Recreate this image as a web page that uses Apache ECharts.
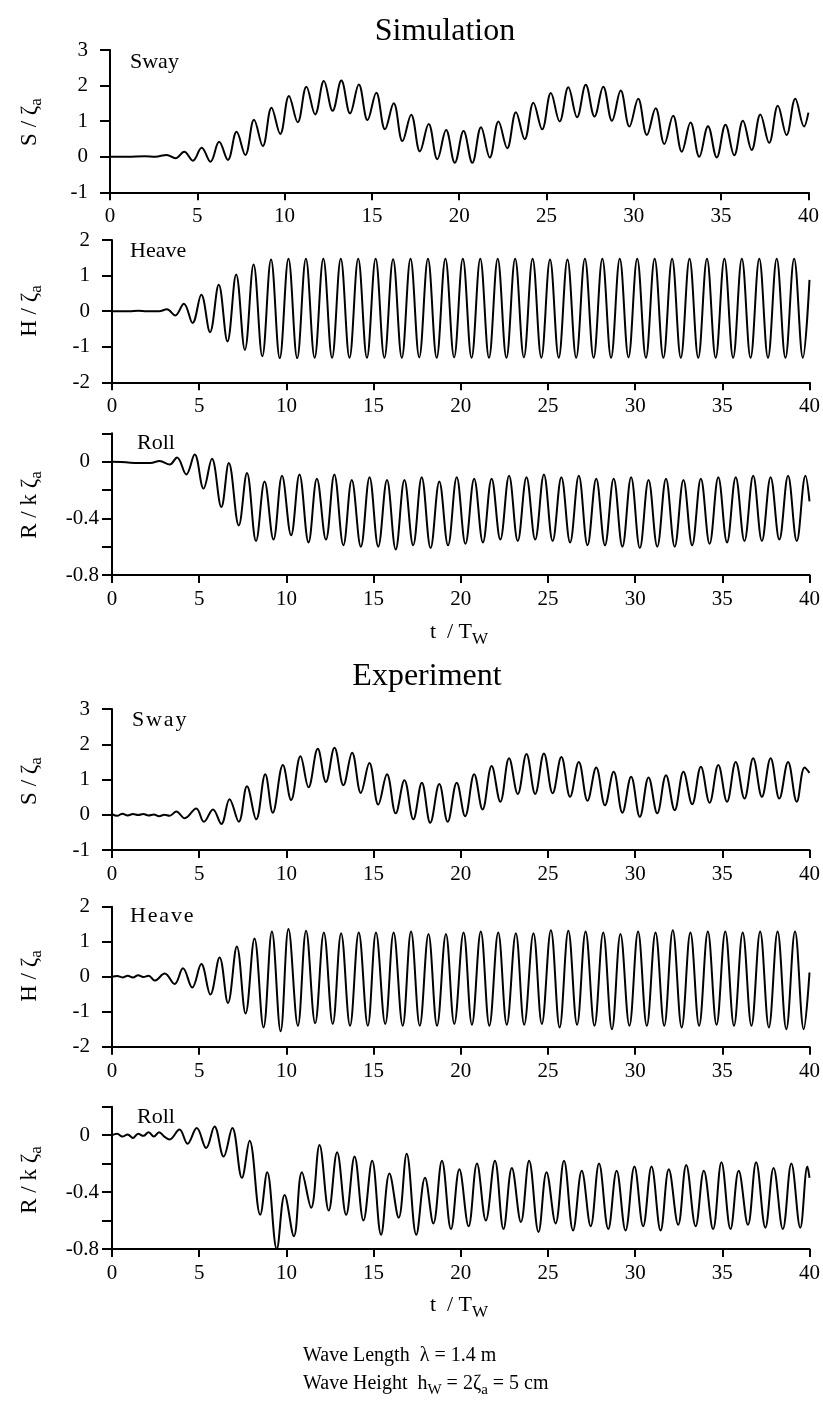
<!DOCTYPE html>
<html><head><meta charset="utf-8">
<script src="https://cdn.jsdelivr.net/npm/echarts@6/dist/echarts.min.js"></script>
<style>html,body{margin:0;padding:0;background:#fff}#c{width:823px;height:1411px}</style>
</head><body><div id="c"></div>
<script>
// ---------- data (t / Tw, value) ----------
const xTickLabels = [0,5,10,15,20,25,30,35,40];

const simSway = [[0,0],[1,0],[2,0.01],[2.6,0],[3.25,0.05],[3.75,-0.04],[4.25,0.14],[4.75,-0.11],[5.25,0.25],[5.75,-0.14],[6.25,0.42],[6.75,-0.09],[7.25,0.70],[7.75,0.05],[8.25,1.04],[8.75,0.30],[9.25,1.38],[9.75,0.64],[10.25,1.71],[10.75,0.97],[11.25,1.97],[11.75,1.19],[12.25,2.13],[12.75,1.29],[13.25,2.14],[13.75,1.22],[14.25,2.03],[14.75,1.03],[15.25,1.80],[15.75,0.77],[16.25,1.50],[16.75,0.44],[17.25,1.18],[17.75,0.15],[18.25,0.92],[18.75,-0.07],[19.25,0.75],[19.75,-0.17],[20.25,0.72],[20.75,-0.17],[21.25,0.83],[21.75,-0.02],[22.25,0.99],[22.75,0.24],[23.25,1.25],[23.75,0.49],[24.25,1.52],[24.75,0.77],[25.25,1.79],[25.75,0.99],[26.25,1.95],[26.75,1.11],[27.25,2.02],[27.75,1.13],[28.25,1.97],[28.75,1.01],[29.25,1.86],[29.75,0.85],[30.25,1.63],[30.75,0.61],[31.25,1.36],[31.75,0.36],[32.25,1.15],[32.75,0.14],[33.25,0.96],[33.75,0.00],[34.25,0.86],[34.75,-0.02],[35.25,0.90],[35.75,0.04],[36.25,1.01],[36.75,0.19],[37.25,1.19],[37.75,0.39],[38.25,1.43],[38.75,0.61],[39.25,1.63],[39.75,0.85],[40,1.24]];

const simHeave = [[0,0],[1,0],[1.5,0.01],[2,0],[2.7,0],[3.15,0.05],[3.62,-0.12],[4.12,0.21],[4.62,-0.33],[5.12,0.46],[5.62,-0.59],[6.12,0.74],[6.62,-0.85],[7.12,1.03],[7.62,-1.09],[8.12,1.31],[8.62,-1.27],[9.12,1.45],[9.62,-1.32],[10.12,1.47],[10.62,-1.32],[11.12,1.47],[11.62,-1.31],[12.12,1.47],[12.62,-1.31],[13.12,1.47],[13.62,-1.31],[14.12,1.47],[14.62,-1.31],[15.12,1.47],[15.62,-1.31],[16.12,1.46],[16.62,-1.31],[17.12,1.47],[17.62,-1.30],[18.12,1.47],[18.62,-1.31],[19.12,1.47],[19.62,-1.30],[20.12,1.47],[20.62,-1.31],[21.12,1.47],[21.62,-1.31],[22.12,1.47],[22.62,-1.31],[23.12,1.47],[23.62,-1.30],[24.12,1.47],[24.62,-1.31],[25.12,1.45],[25.62,-1.31],[26.12,1.45],[26.62,-1.31],[27.12,1.47],[27.62,-1.31],[28.12,1.47],[28.62,-1.31],[29.12,1.47],[29.62,-1.30],[30.12,1.47],[30.62,-1.31],[31.12,1.47],[31.62,-1.31],[32.12,1.47],[32.62,-1.31],[33.12,1.47],[33.62,-1.31],[34.12,1.47],[34.62,-1.31],[35.12,1.47],[35.62,-1.31],[36.12,1.47],[36.62,-1.31],[37.12,1.47],[37.62,-1.31],[38.12,1.47],[38.62,-1.31],[39.12,1.47],[39.62,-1.31],[40,0.88]];

const simRoll = [[0,0],[0.8,-0.005],[1.5,-0.01],[2.2,-0.01],[2.73,0.005],[3.31,-0.02],[3.73,0.03],[4.26,-0.09],[4.74,0.05],[5.25,-0.19],[5.73,0.02],[6.27,-0.32],[6.7,-0.01],[7.27,-0.45],[7.74,-0.08],[8.26,-0.56],[8.75,-0.14],[9.26,-0.55],[9.75,-0.10],[10.27,-0.52],[10.75,-0.09],[11.27,-0.57],[11.75,-0.12],[12.27,-0.55],[12.75,-0.09],[13.27,-0.59],[13.75,-0.13],[14.27,-0.60],[14.77,-0.11],[15.27,-0.60],[15.77,-0.13],[16.27,-0.62],[16.77,-0.13],[17.27,-0.59],[17.76,-0.11],[18.27,-0.61],[18.77,-0.14],[19.27,-0.59],[19.77,-0.11],[20.27,-0.58],[20.77,-0.12],[21.27,-0.57],[21.77,-0.12],[22.27,-0.55],[22.77,-0.10],[23.27,-0.56],[23.77,-0.11],[24.27,-0.55],[24.77,-0.09],[25.27,-0.56],[25.77,-0.11],[26.27,-0.57],[26.77,-0.10],[27.27,-0.59],[27.77,-0.12],[28.27,-0.59],[28.77,-0.12],[29.27,-0.60],[29.77,-0.11],[30.27,-0.61],[30.77,-0.13],[31.27,-0.60],[31.77,-0.12],[32.27,-0.60],[32.77,-0.13],[33.27,-0.59],[33.77,-0.12],[34.27,-0.58],[34.77,-0.11],[35.27,-0.57],[35.77,-0.11],[36.27,-0.56],[36.77,-0.10],[37.27,-0.56],[37.77,-0.11],[38.27,-0.55],[38.77,-0.10],[39.27,-0.56],[39.77,-0.10],[40,-0.28]];

const expSway = [[0,0.02],[0.3,-0.03],[0.6,0.03],[0.9,-0.02],[1.2,0.02],[1.5,-0.01],[1.8,0.02],[2.1,-0.02],[2.4,0.01],[2.7,-0.04],[3.0,0.0],[3.3,-0.03],[3.69,0.09],[4.17,-0.10],[4.83,0.18],[5.27,-0.20],[5.79,0.15],[6.27,-0.26],[6.74,0.44],[7.27,-0.20],[7.74,0.81],[8.27,-0.13],[8.79,1.15],[9.22,0.06],[9.80,1.41],[10.27,0.42],[10.81,1.66],[11.27,0.78],[11.80,1.87],[12.27,0.93],[12.76,1.90],[13.27,0.84],[13.77,1.76],[14.27,0.62],[14.76,1.47],[15.27,0.29],[15.77,1.15],[16.27,0.04],[16.77,0.98],[17.28,-0.13],[17.77,0.91],[18.25,-0.23],[18.77,0.87],[19.25,-0.20],[19.77,0.91],[20.25,-0.04],[20.77,1.15],[21.25,0.15],[21.77,1.38],[22.27,0.37],[22.77,1.60],[23.27,0.59],[23.77,1.72],[24.27,0.59],[24.77,1.74],[25.27,0.61],[25.77,1.64],[26.27,0.51],[26.77,1.50],[27.27,0.40],[27.77,1.34],[28.27,0.27],[28.77,1.22],[29.27,0.06],[29.77,1.08],[30.27,-0.06],[30.77,1.06],[31.27,0.04],[31.77,1.12],[32.27,0.13],[32.77,1.22],[33.27,0.30],[33.77,1.36],[34.27,0.34],[34.77,1.41],[35.27,0.37],[35.77,1.50],[36.27,0.46],[36.77,1.60],[37.27,0.51],[37.77,1.60],[38.27,0.46],[38.77,1.50],[39.27,0.37],[39.72,1.34],[40,1.19]];

const expHeave = [[0,0],[0.3,0.02],[0.6,-0.02],[0.9,0.03],[1.2,-0.02],[1.5,0.04],[1.8,-0.01],[2.1,0.03],[2.45,-0.11],[3.02,0.09],[3.59,-0.21],[4.07,0.24],[4.60,-0.31],[5.12,0.36],[5.64,-0.51],[6.17,0.55],[6.65,-0.75],[7.16,0.86],[7.66,-1.05],[8.17,1.09],[8.69,-1.45],[9.17,1.29],[9.67,-1.56],[10.12,1.36],[10.66,-1.40],[11.13,1.31],[11.65,-1.33],[12.15,1.26],[12.66,-1.35],[13.14,1.24],[13.65,-1.40],[14.15,1.26],[14.67,-1.40],[15.14,1.26],[15.67,-1.35],[16.15,1.26],[16.67,-1.40],[17.15,1.29],[17.65,-1.40],[18.15,1.22],[18.64,-1.40],[19.15,1.22],[19.63,-1.35],[20.16,1.26],[20.64,-1.37],[21.15,1.29],[21.64,-1.40],[22.15,1.26],[22.64,-1.37],[23.16,1.24],[23.64,-1.37],[24.17,1.24],[24.65,-1.35],[25.17,1.33],[25.67,-1.45],[26.17,1.31],[26.67,-1.37],[27.16,1.29],[27.67,-1.40],[28.17,1.26],[28.67,-1.50],[29.16,1.22],[29.67,-1.40],[30.17,1.29],[30.67,-1.40],[31.17,1.26],[31.67,-1.40],[32.16,1.33],[32.67,-1.45],[33.17,1.26],[33.67,-1.40],[34.17,1.29],[34.67,-1.37],[35.17,1.29],[35.67,-1.40],[36.17,1.26],[36.67,-1.40],[37.17,1.29],[37.67,-1.45],[38.17,1.29],[38.67,-1.50],[39.17,1.29],[39.67,-1.50],[40,0.12]];

const expRoll = [[0,0.0],[0.3,0.01],[0.6,-0.01],[0.9,0.005],[1.2,-0.02],[1.5,0.01],[1.8,-0.005],[2.1,0.02],[2.4,-0.01],[2.7,0.02],[3.0,-0.01],[3.3,-0.03],[3.87,0.04],[4.33,-0.06],[4.86,0.05],[5.40,-0.09],[5.88,0.06],[6.40,-0.15],[6.90,0.05],[7.45,-0.30],[7.89,-0.04],[8.50,-0.56],[8.90,-0.26],[9.45,-0.80],[9.90,-0.42],[10.43,-0.71],[10.89,-0.26],[11.42,-0.51],[11.90,-0.07],[12.43,-0.53],[12.91,-0.12],[13.43,-0.56],[13.91,-0.15],[14.42,-0.60],[14.92,-0.18],[15.43,-0.70],[15.91,-0.27],[16.44,-0.58],[16.90,-0.13],[17.45,-0.70],[17.95,-0.30],[18.43,-0.62],[18.92,-0.18],[19.44,-0.66],[19.92,-0.24],[20.45,-0.64],[20.93,-0.20],[21.44,-0.60],[21.96,-0.18],[22.45,-0.66],[22.93,-0.23],[23.45,-0.61],[23.92,-0.18],[24.46,-0.68],[24.92,-0.26],[25.44,-0.62],[25.92,-0.18],[26.44,-0.67],[26.94,-0.25],[27.45,-0.64],[27.93,-0.20],[28.46,-0.66],[28.94,-0.25],[29.45,-0.67],[29.96,-0.22],[30.46,-0.64],[30.94,-0.22],[31.46,-0.67],[31.93,-0.24],[32.47,-0.63],[32.93,-0.21],[33.47,-0.64],[33.94,-0.25],[34.47,-0.66],[34.95,-0.19],[35.47,-0.66],[35.94,-0.25],[36.47,-0.63],[36.94,-0.19],[37.47,-0.65],[37.94,-0.23],[38.47,-0.66],[38.96,-0.20],[39.47,-0.65],[39.88,-0.22],[40,-0.30]];

// ---------- layout / styling ----------
const FONT = '"Liberation Serif","Times New Roman",serif';
const panels = [
  {data: simSway,  left:110, top:50,    height:142.3, min:-1,   max:3,   interval:1,   kind:'n'},
  {data: simHeave, left:112, top:240,   height:142.3, min:-2,   max:2,   interval:1,   kind:'n'},
  {data: simRoll,  left:112, top:433.3, height:141.7, min:-0.8, max:0.2, interval:0.2, kind:'r'},
  {data: expSway,  left:112, top:709,   height:141,   min:-1,   max:3,   interval:1,   kind:'n'},
  {data: expHeave, left:112, top:906.7, height:140,   min:-2,   max:2,   interval:1,   kind:'n'},
  {data: expRoll,  left:112, top:1106.7,height:142.3, min:-0.8, max:0.2, interval:0.2, kind:'r'}
];
const W = 698.4;

const grid = [], xAxis = [], yAxis = [], series = [];
panels.forEach((p, i) => {
  grid.push({left: p.left, top: p.top, width: W, height: p.height, containLabel: false});
  xAxis.push({
    type: 'value', gridIndex: i, min: 0, max: 40, interval: 5,
    axisLine: {show: true, onZero: false, lineStyle: {color: '#000', width: 2}},
    axisTick: {show: true, inside: false, length: 8, lineStyle: {color: '#000', width: 2}},
    axisLabel: {show: true, color: '#000', fontFamily: FONT, fontSize: 21, margin: 14,
      formatter: v => (xTickLabels.indexOf(v) >= 0 ? String(v) : '')},
    splitLine: {show: false}
  });
  const isRoll = p.kind === 'r';
  yAxis.push({
    type: 'value', gridIndex: i, min: p.min, max: p.max, interval: p.interval,
    axisLine: {show: true, onZero: false, lineStyle: {color: '#000', width: 2}},
    axisTick: {show: true, inside: false, length: 10, lineStyle: {color: '#000', width: 2}},
    axisLabel: {show: true, color: '#000', fontFamily: FONT, fontSize: 21, margin: isRoll ? 13 : 22,
      formatter: isRoll ? (v => { const r = Math.round(v * 10) / 10;
          if (r === 0) return '{z|0}';
          if (r === -0.4 || r === -0.8) return r.toFixed(1);
          return ''; }) : (v => String(Math.round(v))),
      rich: {z: {fontFamily: FONT, fontSize: 21, color: '#000', padding: [0, 9, 0, 0]}}},
    splitLine: {show: false}
  });
  series.push({
    type: 'line', xAxisIndex: i, yAxisIndex: i, data: p.data,
    showSymbol: false, smooth: 0.38, animation: false, silent: true,
    lineStyle: {color: '#000', width: 2}
  });
});

function richStyles(size) {
  return {
    m: {fontFamily: FONT, fontSize: size, lineHeight: size + 1, verticalAlign: 'top', color: '#000'},
    s: {fontFamily: FONT, fontSize: Math.round(size * 0.75), lineHeight: Math.round(size * 0.75), padding: [Math.round(size * 0.45), 0, 0, 0], verticalAlign: 'top', color: '#000'}
  };
}

const graphic = [];
function txt(x, y, text, size, align) {
  graphic.push({type: 'text', x: x, y: y, silent: true,
    style: {text: text, fontFamily: FONT, fontSize: size, fill: '#000', align: align || 'left', verticalAlign: 'middle'}});
}
function richTxt(x, y, text, size, rot, align) {
  graphic.push({type: 'text', x: x, y: y, rotation: rot || 0, silent: true,
    style: {text: text, rich: richStyles(size), fill: '#000', align: align || 'center', verticalAlign: 'middle',
      fontFamily: FONT, fontSize: size}});
}

// titles
txt(445, 32, 'Simulation', 32, 'center');
txt(427, 677, 'Experiment', 32, 'center');
// panel labels
txt(130, 62, 'Sway', 22);
txt(130, 251, 'Heave', 22);
txt(137, 443, 'Roll', 22);
txt(132, 720, 'S\u200Aw\u200Aa\u200Ay', 22);
txt(130, 916, 'H\u200Ae\u200Aa\u200Av\u200Ae', 22);
txt(137, 1117, 'Roll', 22);
// y axis names (rotated)
const R = Math.PI / 2;
richTxt(30, 122, '{m|S / ζ}{s|a}', 23, R);
richTxt(30, 311, '{m|H / ζ}{s|a}', 23, R);
richTxt(30, 505, '{m|R / k ζ}{s|a}', 23, R);
richTxt(30, 781, '{m|S / ζ}{s|a}', 23, R);
richTxt(30, 976, '{m|H / ζ}{s|a}', 23, R);
richTxt(30, 1180, '{m|R / k ζ}{s|a}', 23, R);
// x axis names
richTxt(459, 633, '{m|t  / T}{s|W}', 22, 0);
richTxt(459, 1306, '{m|t  / T}{s|W}', 22, 0);
// bottom notes
richTxt(303, 1356, '{m|Wave Length  λ = 1.4 m}', 20, 0, 'left');
richTxt(303, 1384, '{m|Wave Height  h}{s|W}{m| = 2ζ}{s|a}{m| = 5 cm}', 20, 0, 'left');

const chart = echarts.init(document.getElementById('c'), null, {renderer: 'canvas'});
chart.setOption({animation: false, backgroundColor: '#fff', grid, xAxis, yAxis, series, graphic});
</script>
</body></html>
